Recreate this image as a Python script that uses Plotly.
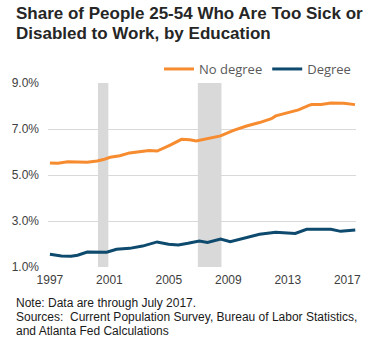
import plotly.graph_objects as go

# ---- data ----
years_no_degree = [1997.0, 1997.54, 1998.2, 1998.86, 1999.51, 2000.17, 2000.6, 2001.05, 2001.7,
                   2002.36, 2003.01, 2003.67, 2004.21, 2004.54, 2005.09, 2005.85, 2006.4, 2006.84,
                   2007.6, 2008.48, 2009.35, 2010.23, 2011.1, 2011.9, 2012.19, 2013.28, 2013.72,
                   2014.38, 2014.6, 2015.25, 2015.9, 2016.78, 2017.52]
no_degree = [5.52, 5.51, 5.58, 5.58, 5.55, 5.61, 5.67, 5.77, 5.84,
             5.96, 6.02, 6.07, 6.04, 6.13, 6.30, 6.55, 6.53, 6.48,
             6.58, 6.70, 6.94, 7.13, 7.28, 7.45, 7.57, 7.74, 7.83,
             8.02, 8.06, 8.07, 8.13, 8.12, 8.06]

years_degree = [1997.0, 1997.77, 1998.42, 1998.86, 1999.51, 2000.17, 2000.82, 2001.48, 2002.36,
                2003.23, 2004.21, 2004.98, 2005.64, 2006.29, 2007.05, 2007.6, 2008.48, 2009.13,
                2010.0, 2011.1, 2012.19, 2013.5, 2014.27, 2015.9, 2016.56, 2017.54]
degree = [1.55, 1.48, 1.47, 1.51, 1.65, 1.65, 1.64, 1.77, 1.81,
          1.91, 2.09, 1.99, 1.96, 2.03, 2.13, 2.07, 2.22, 2.10,
          2.23, 2.42, 2.51, 2.46, 2.64, 2.64, 2.55, 2.61]

recessions = [(2000.23, 2000.93), (2006.95, 2008.54)]
x_ticks = [1997, 2001, 2005, 2009, 2013, 2017]
y_ticks = [1, 3, 5, 7, 9]
y_ticktext = ["1.0%", "3.0%", "5.0%", "7.0%", "9.0%"]

title_lines = ["Share of People 25-54 Who Are Too Sick or",
               "Disabled to Work, by Education"]
notes = ["Note: Data are through July 2017.",
         "Sources:  Current Population Survey, Bureau of Labor Statistics,",
         "and Atlanta Fed Calculations"]

ORANGE = "#F68B2F"
BLUE = "#0D4A6E"
GRID = "#D9D9D9"
ARIAL = "Liberation Sans, Arial, sans-serif"

PLOT_L, PLOT_R, PLOT_T, PLOT_B = 43, 359, 83, 267
PW, PH = PLOT_R - PLOT_L, PLOT_B - PLOT_T

fig = go.Figure()

for x0, x1 in recessions:
    fig.add_shape(type="rect", xref="x", yref="y", x0=x0, x1=x1, y0=1, y1=9,
                  fillcolor=GRID, line_width=0, layer="between")

fig.add_trace(go.Scatter(x=years_no_degree, y=no_degree, mode="lines", name="No degree",
                         line=dict(color=ORANGE, width=3)))
fig.add_trace(go.Scatter(x=years_degree, y=degree, mode="lines", name="Degree",
                         line=dict(color=BLUE, width=3)))

fig.update_layout(
    width=373, height=340,
    margin=dict(l=PLOT_L, r=373 - PLOT_R, t=PLOT_T, b=340 - PLOT_B),
    paper_bgcolor="white", plot_bgcolor="white",
    legend=dict(orientation="h", x=1.0, xanchor="right", y=1.076, yanchor="middle",
                font=dict(family="Open Sans, sans-serif", size=13, color="#595959"),
                itemwidth=30, bgcolor="rgba(0,0,0,0)"),
    showlegend=True,
    xaxis=dict(range=[1996.87, 2017.59], tickvals=x_ticks, showgrid=False, zeroline=False,
               showline=False, ticks="", tickfont=dict(family=ARIAL, size=12, color="#404040"),
               ticklabelstandoff=4),
    yaxis=dict(range=[1, 9], tickvals=y_ticks, ticktext=y_ticktext, showgrid=True, gridcolor=GRID,
               gridwidth=1, zeroline=False, showline=False, ticks="",
               tickfont=dict(family=ARIAL, size=12, color="#404040"), ticklabelstandoff=8),
)

for txt, py in zip(title_lines, [13.5, 33.5]):
    fig.add_annotation(text="<b>" + txt + "</b>", xref="paper", yref="paper",
                       x=(8 - PLOT_L) / PW, y=(PLOT_B - py) / PH, xanchor="left", yanchor="middle",
                       showarrow=False, font=dict(family=ARIAL, size=17, color="#262626"))

for txt, py in zip(notes, [303, 316.5, 330.5]):
    fig.add_annotation(text=txt, xref="paper", yref="paper",
                       x=(8 - PLOT_L) / PW, y=(PLOT_B - py) / PH, xanchor="left", yanchor="middle",
                       showarrow=False, font=dict(family=ARIAL, size=12, color="#1a1a1a"))

fig.write_html("out.html")
